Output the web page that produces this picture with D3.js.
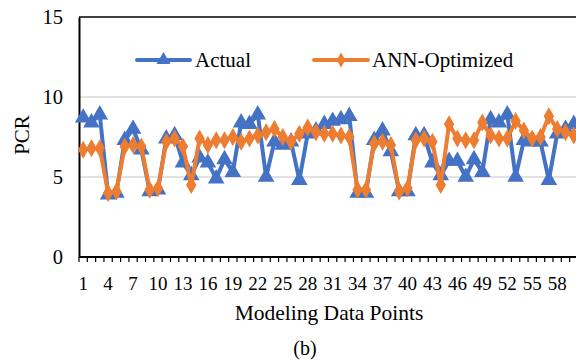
<!DOCTYPE html>
<html><head><meta charset="utf-8">
<script src="https://cdn.jsdelivr.net/npm/d3@7"></script>
<style>html,body{margin:0;padding:0;background:#fff;overflow:hidden}</style>
</head><body><svg id="c" width="576" height="361"></svg>
<script>
const points = d3.range(1, 61);
const actual = [8.7,8.4,8.9,3.9,4.0,7.3,8.0,6.7,4.1,4.2,
  7.4,7.6,5.9,5.1,6.2,5.9,4.9,6.1,5.3,8.4,
  8.3,8.9,5.0,7.2,7.0,7.2,4.8,7.7,7.9,8.3,
  8.5,8.6,8.8,4.0,4.0,7.3,7.9,6.6,4.1,4.1,
  7.6,7.6,5.9,5.1,6.0,6.0,5.0,6.1,5.3,8.6,
  8.4,8.9,5.0,7.3,7.2,7.2,4.8,7.7,8.0,8.3];
const annOptimized = [6.7,6.8,6.8,4.0,4.1,6.9,7.0,6.9,4.2,4.3,
  7.2,7.4,6.9,4.5,7.4,7.0,7.3,7.3,7.5,7.2,
  7.4,7.6,7.8,8.0,7.5,7.2,7.7,8.1,7.8,7.7,
  7.7,7.6,7.5,4.2,4.2,7.1,7.2,7.0,4.1,4.3,
  7.3,7.4,7.2,4.5,8.3,7.4,7.3,7.3,8.4,7.6,
  7.4,7.4,8.5,7.9,7.4,7.5,8.8,8.0,7.8,7.6];
const yTicks = [0, 5, 10, 15];
const xTickLabels = d3.range(1, 61, 3);
const seriesNames = ["Actual", "ANN-Optimized"];
const colors = ["#4472C4", "#ED7D31"];

const svg = d3.select("#c");
const mLeft = 79, mTop = 17, mBottom = 257, step = 8.316;
const x = d3.scaleBand().domain(points).range([mLeft, mLeft + step * points.length]).padding(0);
const cx = d => x(d) + x.bandwidth() / 2;
const y = d3.scaleLinear().domain([0, 15]).range([mBottom, mTop]);
const font = "'Liberation Serif','Times New Roman',serif";

// gridlines
svg.append("g").selectAll("line").data([5, 10]).join("line")
  .attr("x1", mLeft).attr("x2", 576).attr("y1", d => y(d)).attr("y2", d => y(d))
  .attr("stroke", "#D9D9D9").attr("stroke-width", 1.5);
// top border
svg.append("line").attr("x1", mLeft).attr("x2", 576).attr("y1", y(15)).attr("y2", y(15))
  .attr("stroke", "#000").attr("stroke-width", 1.5);

// y axis
const yAxis = svg.append("g").attr("transform", `translate(${mLeft},0)`)
  .call(d3.axisLeft(y).tickValues(yTicks).tickSize(0).tickPadding(16));
yAxis.select(".domain").attr("stroke", "#000").attr("stroke-width", 2);
yAxis.selectAll("text").attr("font-family", font).attr("font-size", 20.5).attr("fill", "#000");

// x axis boundaries ticks
const bounds = points.map(p => x(p)).concat([x(points[points.length - 1]) + x.bandwidth()]);
svg.append("g").selectAll("line").data(bounds).join("line")
  .attr("x1", d => d).attr("x2", d => d).attr("y1", mBottom).attr("y2", mBottom + 5)
  .attr("stroke", "#000").attr("stroke-width", 1.2);
svg.append("line").attr("x1", mLeft).attr("x2", 576).attr("y1", mBottom).attr("y2", mBottom)
  .attr("stroke", "#000").attr("stroke-width", 2);
svg.append("g").selectAll("text").data(xTickLabels).join("text")
  .attr("x", d => cx(d)).attr("y", 290).attr("text-anchor", "middle")
  .attr("font-family", font).attr("font-size", 19).text(d => d);

// series
const series = [actual, annOptimized];
const tri = d3.symbol().type(d3.symbolTriangle).size(85);
const dia = d3.symbol().type(d3.symbolDiamond).size(65);
series.forEach((vals, si) => {
  const line = d3.line().x((d, i) => cx(points[i])).y(d => y(d));
  svg.append("path").datum(vals).attr("d", line).attr("fill", "none")
    .attr("stroke", colors[si]).attr("stroke-width", 4).attr("stroke-linejoin", "round");
  svg.append("g").selectAll("path").data(vals).join("path")
    .attr("transform", (d, i) => `translate(${cx(points[i])},${y(d)})`)
    .attr("d", si === 0 ? tri : dia).attr("fill", colors[si]).attr("stroke", colors[si]).attr("stroke-width", 1.5);
});

// legend
const legendItems = [{x1: 137, x2: 190, tx: 195}, {x1: 314, x2: 368, tx: 372}];
legendItems.forEach((l, i) => {
  svg.append("line").attr("x1", l.x1).attr("x2", l.x2).attr("y1", 60).attr("y2", 60)
    .attr("stroke", colors[i]).attr("stroke-width", 4).attr("stroke-linecap", "round");
  svg.append("path").attr("transform", `translate(${(l.x1 + l.x2) / 2},60)`)
    .attr("d", i === 0 ? tri : dia).attr("fill", colors[i]);
  svg.append("text").attr("x", l.tx).attr("y", 67).attr("font-family", font)
    .attr("font-size", 21).text(seriesNames[i]);
});

// axis titles
svg.append("text").attr("transform", "translate(29,135) rotate(-90)").attr("text-anchor", "middle")
  .attr("font-family", font).attr("font-size", 21).text("PCR");
svg.append("text").attr("x", 329).attr("y", 320).attr("text-anchor", "middle")
  .attr("font-family", font).attr("font-size", 21.5).text("Modeling Data Points");
svg.append("text").attr("x", 305).attr("y", 355).attr("text-anchor", "middle")
  .attr("font-family", font).attr("font-size", 20).text("(b)");
</script></body></html>
